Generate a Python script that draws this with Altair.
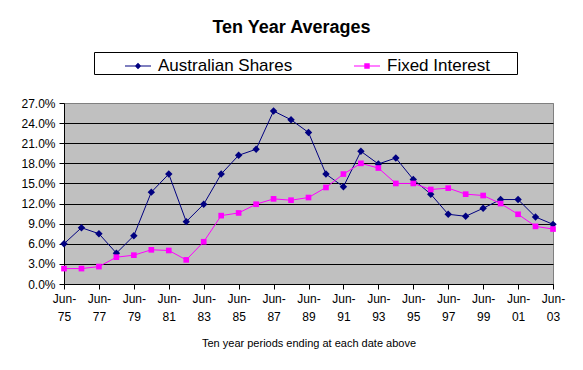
import altair as alt
import pandas as pd

years = list(range(1975, 2004))
aus_shares = [6.0, 8.4, 7.5, 4.6, 7.2, 13.7, 16.4, 9.3, 11.9, 16.4, 19.2, 20.1, 25.8, 24.5,
              22.6, 16.4, 14.5, 19.8, 17.9, 18.8, 15.6, 13.4, 10.4, 10.1, 11.3, 12.6, 12.6,
              10.0, 8.9]
fixed_interest = [2.3, 2.3, 2.6, 4.0, 4.3, 5.1, 5.0, 3.6, 6.3, 10.2, 10.6, 11.9, 12.7, 12.5,
                  12.9, 14.4, 16.4, 18.0, 17.3, 15.0, 15.0, 14.1, 14.3, 13.4, 13.2, 12.0, 10.4,
                  8.6, 8.2]
series_names = ["Australian Shares", "Fixed Interest"]
series_colors = ["#000080", "#FF00FF"]
x_tick_years = list(range(1975, 2004, 2))
y_ticks = list(range(0, 28, 3))

df = pd.DataFrame({
    "year": years * 2,
    "value": aus_shares + fixed_interest,
    "series": [series_names[0]] * len(years) + [series_names[1]] * len(years),
})

FONT = "Liberation Sans"

x_enc = alt.X(
    "year:Q",
    scale=alt.Scale(domain=[1975, 2003], nice=False, zero=False),
    axis=alt.Axis(
        values=x_tick_years,
        labelExpr="['Jun-', slice(toString(datum.value), 2)]",
        labelFontSize=12, labelLineHeight=18, labelFont=FONT, labelColor="black",
        labelAngle=0, labelFlush=False, labelOverlap=False, labelPadding=4,
        tickSize=5, tickColor="black", domainColor="black", grid=False,
        titleFontSize=11, titleFontWeight="normal", titleFont=FONT, titleColor="black",
        titlePadding=15,
    ),
    title="Ten year periods ending at each date above",
)
y_enc = alt.Y(
    "value:Q",
    scale=alt.Scale(domain=[0, 27], nice=False, zero=True),
    axis=alt.Axis(
        values=y_ticks,
        labelExpr="format(datum.value, '.1f') + '%'",
        labelFontSize=12, labelFont=FONT, labelColor="black", labelPadding=4,
        tickSize=5, tickColor="black", domainColor="black",
        grid=True, gridColor={"condition": {"test": "datum.value == 27", "value": "#808080"}, "value": "black"},
        gridOpacity=1, gridWidth=1,
    ),
    title=None,
)

base = alt.Chart(df)

aus_line = base.transform_filter(alt.datum.series == series_names[0]).mark_line(
    color=series_colors[0], strokeWidth=1).encode(x=x_enc, y=y_enc)
aus_pts = base.transform_filter(alt.datum.series == series_names[0]).mark_point(
    shape="diamond", filled=True, size=55, color=series_colors[0], opacity=1).encode(x=x_enc, y=y_enc)
fix_line = base.transform_filter(alt.datum.series == series_names[1]).mark_line(
    color=series_colors[1], strokeWidth=1).encode(x=x_enc, y=y_enc)
fix_pts = base.transform_filter(alt.datum.series == series_names[1]).mark_point(
    shape="square", filled=True, size=32, color=series_colors[1], opacity=1).encode(x=x_enc, y=y_enc)

sym_aus = "M-1,-0.04H1V0.04H-1Z M0,-0.25L0.25,0L0,0.25L-0.25,0Z"
sym_fix = "M-1,-0.04H1V0.04H-1Z M-0.21,-0.21H0.21V0.21H-0.21Z"

legend_layer = base.transform_filter("false").mark_point(filled=True, opacity=1).encode(
    x=x_enc, y=y_enc,
    color=alt.Color("series:N", scale=alt.Scale(domain=series_names, range=series_colors),
                    legend=alt.Legend(
                        title="MMM", titleOrient="right", titleColor="white", titleFontSize=8,
                        titlePadding=7,
                        orient="none", legendX=30, legendY=-51,
                        direction="horizontal", columns=2,
                        strokeColor="black", fillColor="white", padding=0,
                        symbolOffset=30, symbolSize=676, columnPadding=30,
                        labelFontSize=17, labelFont=FONT, labelColor="black", labelOffset=6,
                    )),
    shape=alt.Shape("series:N", scale=alt.Scale(domain=series_names, range=[sym_aus, sym_fix])),
)

chart = alt.layer(aus_line, aus_pts, fix_line, fix_pts, legend_layer).properties(
    width=489, height=181,
    autosize=alt.AutoSizeParams(type="none"),
    padding={"left": 56, "top": 95, "right": 22, "bottom": 70},
    background="white",
    title=alt.TitleParams(
        "Ten Year Averages", fontSize=18, fontWeight="bold", font=FONT, color="black",
        anchor="middle", frame="group", baseline="alphabetic", offset=1, dx=-17,
    ),
).configure_view(fill="#C0C0C0", stroke="#808080", strokeWidth=1)

chart.save("out.html", embed_options={"renderer": "svg", "actions": False})
